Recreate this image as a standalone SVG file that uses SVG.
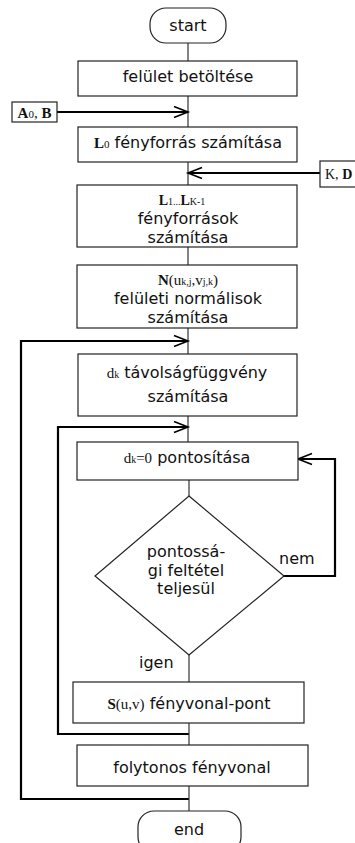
<svg xmlns="http://www.w3.org/2000/svg" width="355" height="843" viewBox="0 0 355 843">
<defs>
<style>
.box{fill:#fff;stroke:#222;stroke-width:1.2}
.t{font-family:"DejaVu Sans",Verdana,sans-serif;font-size:16px;fill:#111;text-anchor:middle}
.s{font-family:"Liberation Serif","Times New Roman",serif;fill:#111}
.b{font-weight:bold}
.thin{fill:none;stroke:#333;stroke-width:1.2}
.thick{fill:none;stroke:#000;stroke-width:2.2}
</style>
<marker id="ah" markerUnits="userSpaceOnUse" markerWidth="16" markerHeight="12" refX="14" refY="6" orient="auto" overflow="visible">
<path d="M0,0.5 L14,6 L0,11.5" fill="none" stroke="#000" stroke-width="1.6"/>
</marker>
</defs>
<rect width="355" height="843" fill="#fff"/>
<g id="connectors">
<path class="thin" d="M188 43 V61"/>
<path class="thin" d="M188 96 V127"/>
<path class="thick" d="M57 112 H188" marker-end="url(#ah)"/>
<path class="thin" d="M188 162 V185"/>
<path class="thick" d="M320 173 H188" marker-end="url(#ah)"/>
<path class="thin" d="M188 247 V265"/>
<path class="thin" d="M188 328 V354"/>
<path class="thick" d="M189 799 H21 V341 H188" marker-end="url(#ah)"/>
<path class="thin" d="M188 416 V442"/>
<path class="thick" d="M189 734 H58 V427 H188" marker-end="url(#ah)"/>
<path class="thin" d="M189 480 V496"/>
<path class="thick" d="M284 576 H335 V459 H298" marker-end="url(#ah)"/>
<path class="thin" d="M189 655 V682"/>
<path class="thin" d="M189 723 V745"/>
<path class="thin" d="M189 786 V811"/>
<text class="t" x="279" y="564" style="text-anchor:start">nem</text>
<text class="t" x="139" y="668" style="text-anchor:start">igen</text>
</g>
<g id="start">
<rect class="box" x="150" y="8" width="76" height="35" rx="16"/>
<text class="t" x="188" y="31">start</text>
</g>
<g id="n1">
<rect class="box" x="78" y="61" width="219" height="35"/>
<text class="t" x="188" y="82">felület betöltése</text>
</g>
<g id="inA">
<rect class="box" x="12" y="102" width="45" height="20"/>
<text class="s" x="34.5" y="118" font-size="15" text-anchor="middle"><tspan class="b">A</tspan><tspan font-size="11">0</tspan>, <tspan class="b">B</tspan></text>
</g>
<g id="n2">
<rect class="box" x="78" y="127" width="219" height="35"/>
<text class="t" x="188" y="148"><tspan class="s b" font-size="15">L</tspan><tspan class="s" font-size="11">0</tspan> fényforrás számítása</text>
</g>
<g id="inK">
<rect class="box" x="320" y="161" width="45" height="26"/>
<text class="s" x="325" y="179" font-size="14">K, <tspan class="b">D</tspan></text>
</g>
<g id="n3">
<rect class="box" x="77" y="185" width="220" height="62"/>
<text class="s" x="182" y="205" font-size="14" text-anchor="middle"><tspan class="b">L</tspan><tspan font-size="10">1...</tspan><tspan class="b">L</tspan><tspan font-size="10">K-1</tspan></text>
<text class="t" x="188" y="224">fényforrások</text>
<text class="t" x="188" y="243">számítása</text>
</g>
<g id="n4">
<rect class="box" x="77" y="265" width="220" height="63"/>
<text class="s" x="188" y="285" font-size="15" text-anchor="middle"><tspan class="b">N</tspan>(u<tspan font-size="10">k,j</tspan>,v<tspan font-size="10">j,k</tspan>)</text>
<text class="t" x="188" y="304">felületi normálisok</text>
<text class="t" x="188" y="323">számítása</text>
</g>
<g id="n5">
<rect class="box" x="78" y="354" width="219" height="62"/>
<text class="t" x="187" y="378"><tspan class="s" font-size="15">d</tspan><tspan class="s" font-size="10">k</tspan> távolságfüggvény</text>
<text class="t" x="188" y="402">számítása</text>
</g>
<g id="n6">
<rect class="box" x="77" y="442" width="221" height="38"/>
<text class="t" x="187" y="463"><tspan class="s" font-size="15">d</tspan><tspan class="s" font-size="10">k</tspan><tspan class="s" font-size="15">=0</tspan> pontosítása</text>
</g>
<g id="dec">
<polygon class="box" points="189,496 284,576 189,655 95,576"/>
<text class="t" x="186" y="557">pontossá-</text>
<text class="t" x="186" y="576">gi feltétel</text>
<text class="t" x="186" y="594">teljesül</text>
</g>
<g id="n7">
<rect class="box" x="73" y="682" width="231" height="41"/>
<text class="t" x="189" y="709"><tspan class="s b" font-size="15">S</tspan><tspan class="s" font-size="15">(u,v)</tspan> fényvonal-pont</text>
</g>
<g id="n8">
<rect class="box" x="77" y="745" width="231" height="41"/>
<text class="t" x="192" y="773">folytonos fényvonal</text>
</g>
<g id="end">
<rect class="box" x="138" y="811" width="103" height="42" rx="16"/>
<text class="t" x="189" y="835">end</text>
</g>
</svg>
